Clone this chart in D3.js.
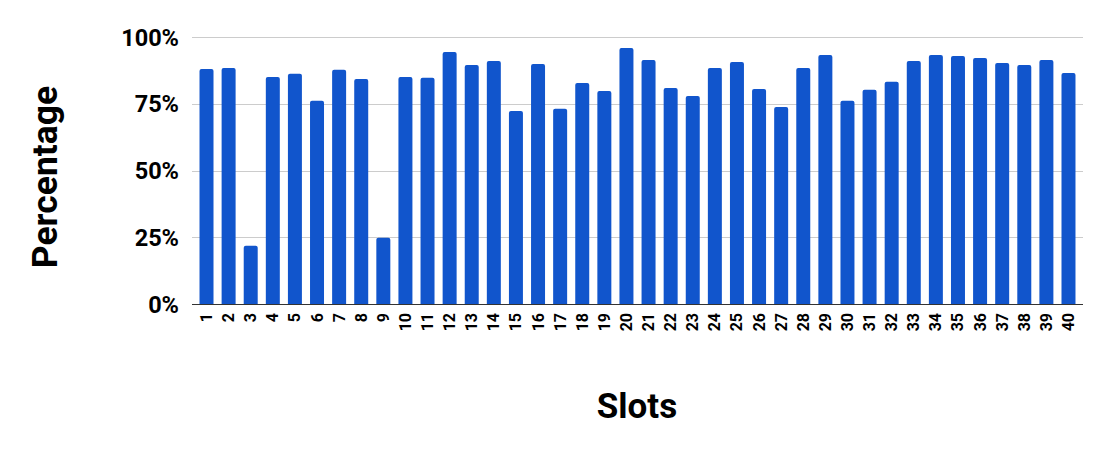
<!DOCTYPE html>
<html>
<head>
<meta charset="utf-8">
<script src="https://cdn.jsdelivr.net/npm/d3@7"></script>
<style>
  html, body { margin: 0; padding: 0; background: #fff; }
  svg { display: block; font-family: Roboto, "Liberation Sans", sans-serif; }
</style>
</head>
<body>
<svg id="chart" width="1105" height="450"></svg>
<script>
const slots = d3.range(1, 41).map(String);
const percentages = [
  88.0, 88.4, 21.8, 85.0, 86.2, 76.1, 87.7, 84.3, 24.8, 85.0,
  84.7, 94.4, 89.5, 91.0, 72.3, 89.9, 73.1, 82.8, 79.8, 95.9,
  91.4, 80.9, 77.9, 88.4, 90.6, 80.5, 73.8, 88.4, 93.3, 76.1,
  80.2, 83.2, 91.0, 93.3, 92.9, 92.1, 90.3, 89.5, 91.4, 86.5
];
const yTicks = [0, 25, 50, 75, 100];
const xTitle = "Slots";
const yTitle = "Percentage";

const svg = d3.select("#chart");
const plotLeft = 192, plotRight = 1083, plotTop = 37, plotBottom = 304;

const x = d3.scaleBand().domain(slots).range([plotLeft, plotRight])
  .paddingInner(0.367).paddingOuter(0.34);
const y = d3.scaleLinear().domain([0, 100]).range([plotBottom, plotTop]);

// gridlines
svg.append("g").selectAll("line").data(yTicks.filter(d => d > 0)).join("line")
  .attr("x1", plotLeft).attr("x2", plotRight)
  .attr("y1", d => Math.round(y(d)) + 0.5).attr("y2", d => Math.round(y(d)) + 0.5)
  .attr("stroke", "#cccccc").attr("stroke-width", 1);

// y tick labels
svg.append("g").selectAll("text").data(yTicks).join("text")
  .attr("x", 179).attr("y", d => y(d) + 8.5)
  .attr("text-anchor", "end")
  .attr("font-size", 23.5).attr("font-weight", "bold").attr("fill", "#000")
  .text(d => d + "%");

// bars with slightly rounded tops
const r = 2;
svg.append("g").selectAll("path").data(percentages).join("path")
  .attr("fill", "#1155cc")
  .attr("d", (d, i) => {
    const x0 = x(slots[i]), w = x.bandwidth(), y0 = y(d), y1 = y(0);
    return `M${x0},${y1}V${y0 + r}Q${x0},${y0} ${x0 + r},${y0}H${x0 + w - r}Q${x0 + w},${y0} ${x0 + w},${y0 + r}V${y1}Z`;
  });

// baseline axis
svg.append("line")
  .attr("x1", plotLeft).attr("x2", plotRight)
  .attr("y1", y(0) + 0.5).attr("y2", y(0) + 0.5)
  .attr("stroke", "#333333").attr("stroke-width", 1.2);

// x tick labels (rotated)
svg.append("g").selectAll("text").data(slots).join("text")
  .attr("transform", d => `translate(${x(d) + x.bandwidth() / 2 + 5.5},313) rotate(-90)`)
  .attr("text-anchor", "end")
  .attr("font-size", 16).attr("font-weight", "bold").attr("fill", "#000")
  .text(d => d);

// axis titles
svg.append("text")
  .attr("x", 637).attr("y", 418)
  .attr("text-anchor", "middle")
  .attr("font-size", 35).attr("font-weight", "bold").attr("fill", "#000")
  .text(xTitle);

svg.append("text")
  .attr("transform", "translate(57,177) rotate(-90)")
  .attr("text-anchor", "middle")
  .attr("font-size", 35.5).attr("font-weight", "bold").attr("fill", "#000")
  .text(yTitle);
</script>
</body>
</html>
